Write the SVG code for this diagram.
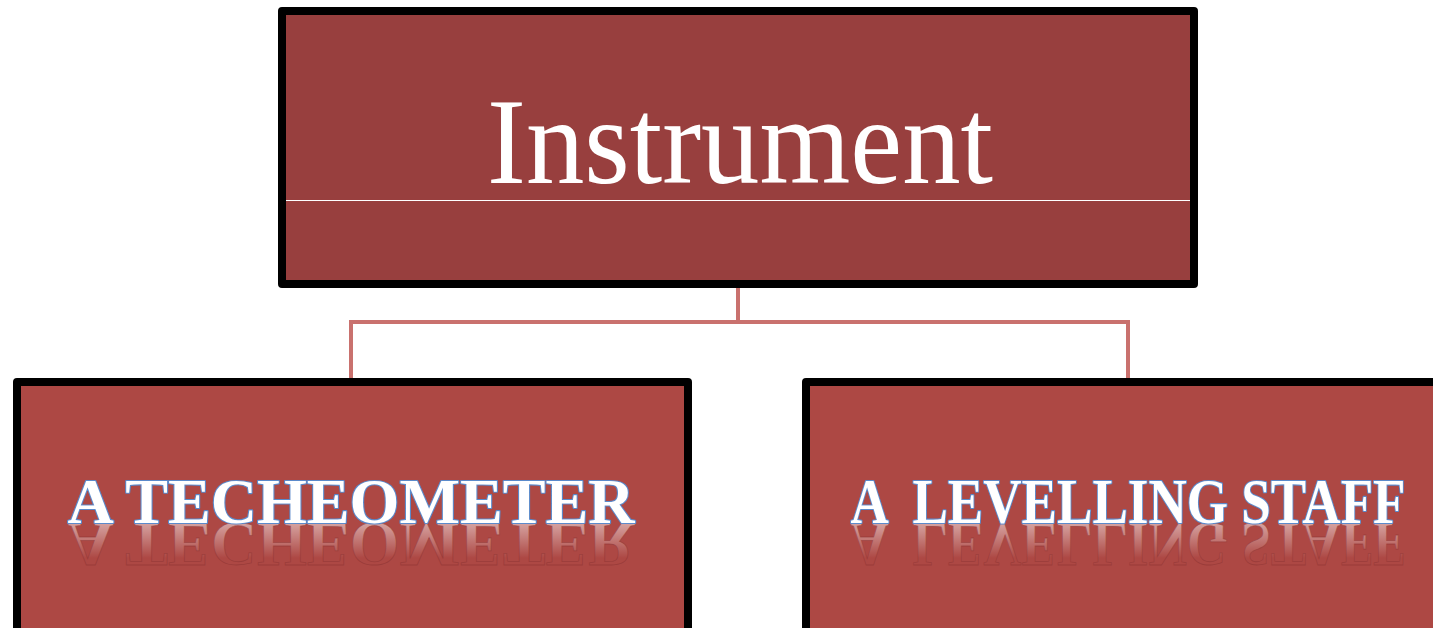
<svg xmlns="http://www.w3.org/2000/svg" width="1433" height="628" viewBox="0 0 1433 628">
  <defs>
    <style>
      .box { stroke: #000000; stroke-width: 8; stroke-linejoin: round; }
      .top { fill: #983F3E; }
      .child { fill: #AD4844; }
      .conn { fill: none; stroke: #C9716E; stroke-width: 4; }
      .title { font-size: 122px; fill: #FFFFFF; text-anchor: middle; }
      .lbl { font-weight: bold; font-size: 64px; text-anchor: middle; }
      .front { fill: #FFFFFF; stroke: #5B8ACB; stroke-width: 2.2; paint-order: stroke; stroke-linejoin: round; }
      .refl { fill: url(#reflGrad); stroke: #8E3433; stroke-width: 0.8; stroke-opacity: 0.6; }
    </style>
    <linearGradient id="reflGrad" gradientUnits="userSpaceOnUse" x1="0" y1="523" x2="0" y2="488">
      <stop offset="0" stop-color="#FFFFFF" stop-opacity="0.5"/>
      <stop offset="1" stop-color="#FFFFFF" stop-opacity="0"/>
    </linearGradient>
  </defs>

  <rect width="1433" height="628" fill="#FFFFFF"/>

  <g id="connectors">
    <path class="conn" d="M738 288 V322 M351 322 H1128 M351 320 V380 M1128 320 V380"/>
  </g>

  <g id="node-instrument">
    <rect class="box top" x="282" y="11" width="912" height="273"/>
    <line x1="286" y1="200.5" x2="1190" y2="200.5" stroke="#FFFFFF" stroke-width="1.2"/>
    <text class="title" font-family="Liberation Serif, serif" x="740" y="183" textLength="506" lengthAdjust="spacingAndGlyphs">Instrument</text>
  </g>

  <g id="node-techeometer">
    <rect class="box child" x="17" y="382" width="671" height="254"/>
    <g transform="translate(0,1046) scale(1,-1)">
      <text class="lbl refl" font-family="Liberation Serif, serif" x="351" y="523" textLength="567" lengthAdjust="spacingAndGlyphs">A TECHEOMETER</text>
    </g>
    <text class="lbl front" font-family="Liberation Serif, serif" x="351" y="523" textLength="567" lengthAdjust="spacingAndGlyphs">A TECHEOMETER</text>
  </g>

  <g id="node-levelling-staff">
    <rect class="box child" x="806" y="382" width="640" height="254"/>
    <g transform="translate(0,1046) scale(1,-1)">
      <text class="lbl refl" font-family="Liberation Serif, serif" x="1128" y="523" textLength="555" lengthAdjust="spacingAndGlyphs" xml:space="preserve">A  LEVELLING STAFF</text>
    </g>
    <text class="lbl front" font-family="Liberation Serif, serif" x="1128" y="523" textLength="555" lengthAdjust="spacingAndGlyphs" xml:space="preserve">A  LEVELLING STAFF</text>
  </g>
</svg>
